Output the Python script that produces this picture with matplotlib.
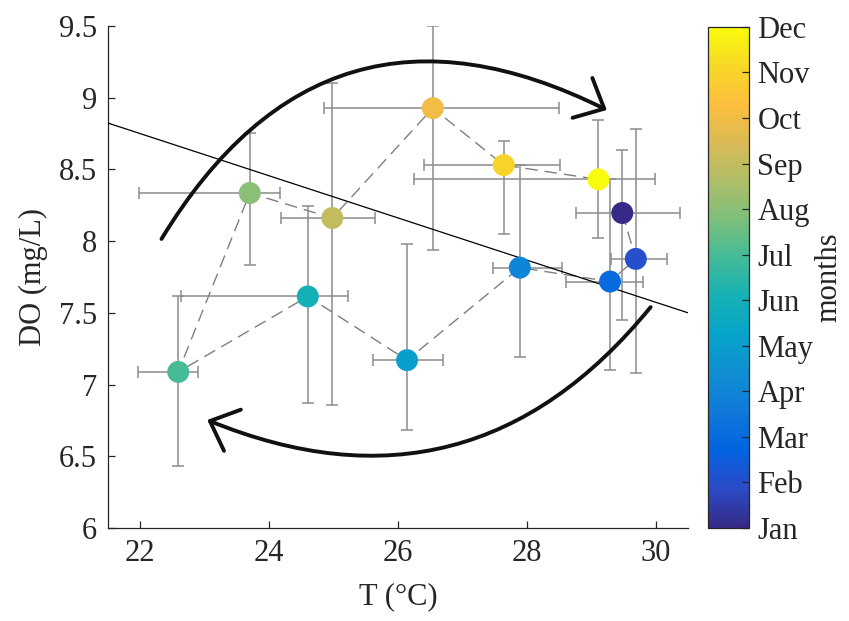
import numpy as np
import matplotlib
matplotlib.use('agg')
import matplotlib.pyplot as plt
from matplotlib import rcParams, ticker
from matplotlib.colors import LinearSegmentedColormap, Normalize
from matplotlib.patches import FancyArrowPatch
import matplotlib.cm as cm

rcParams['font.family'] = ['Liberation Serif', 'DejaVu Serif']
rcParams['font.size'] = 22

# monthly means and ranges
months = ['Jan', 'Feb', 'Mar', 'Apr', 'May', 'Jun',
          'Jul', 'Aug', 'Sep', 'Oct', 'Nov', 'Dec']
month_num = np.arange(1, 13)
temp = np.array([29.48, 29.69, 29.29, 27.89, 26.14, 24.60,
                 22.59, 23.70, 24.98, 26.54, 27.64, 29.11])
do = np.array([8.196, 7.876, 7.718, 7.815, 7.170, 7.614,
               7.088, 8.335, 8.161, 8.927, 8.530, 8.430])
temp_lo = np.array([28.76, 29.30, 28.61, 27.48, 25.61, 22.64,
                    21.96, 21.98, 24.18, 24.85, 26.41, 26.25])
temp_hi = np.array([30.37, 30.17, 29.80, 28.55, 26.70, 25.22,
                    22.90, 24.17, 25.65, 28.50, 28.51, 29.98])
do_lo = np.array([7.447, 7.081, 7.100, 7.190, 6.686, 6.872,
                  6.435, 7.836, 6.860, 7.936, 8.050, 8.022])
do_hi = np.array([8.632, 8.780, 8.430, 8.530, 7.983, 8.243,
                  7.616, 8.753, 9.100, 9.500, 8.695, 8.846])

# linear fit line (end points on the axis limits)
fit_t = [21.5, 30.5]
fit_do = [8.823, 7.500]

# seasonal arrows: (start, end) in data units
arrow_upper = [(22.33, 8.015), (29.24, 8.914)]
arrow_lower = [(29.92, 7.540), (23.04, 6.753)]

# parula-like colormap
parula_pts = [
    (0.2081, 0.1663, 0.5292), (0.1707, 0.2919, 0.7792),
    (0.0117, 0.3875, 0.8820), (0.0629, 0.4737, 0.8554),
    (0.0641, 0.5570, 0.8240), (0.0231, 0.6418, 0.7913),
    (0.0843, 0.6928, 0.7062), (0.2586, 0.7317, 0.5954),
    (0.4871, 0.7491, 0.4840), (0.6834, 0.7435, 0.4044),
    (0.8507, 0.7299, 0.3360), (0.9938, 0.7455, 0.2403),
    (0.9697, 0.8481, 0.1475), (0.9763, 0.9831, 0.0538),
]
parula = LinearSegmentedColormap.from_list('parula', parula_pts, N=256)
norm = Normalize(vmin=1, vmax=12)

dark = '#262626'
grey = '#8c8c8c'

fig = plt.figure(figsize=(8.49, 6.21), dpi=100)
ax = fig.add_axes([0.1272, 0.1498, 0.6832, 0.8084])

ax.plot(temp, do, linestyle='--', dashes=(9, 5), color='#7f7f7f', lw=1.0, zorder=1)
ax.errorbar(temp, do,
            xerr=[temp - temp_lo, temp_hi - temp],
            yerr=[do - do_lo, do_hi - do],
            fmt='none', ecolor=grey, elinewidth=1.1, capsize=4.5,
            capthick=1.1, zorder=2)
ax.plot(fit_t, fit_do, color='black', lw=0.9, zorder=3)
ax.scatter(temp, do, c=month_num, cmap=parula, norm=norm, s=250,
           edgecolors='none', zorder=4)

for (p0, p1), rad in [(arrow_upper, -0.46), (arrow_lower, -0.37)]:
    arr = FancyArrowPatch(p0, p1, connectionstyle=f'arc3,rad={rad}',
                          arrowstyle='->,head_length=1.75,head_width=1.6',
                          mutation_scale=10, lw=2.8, color='#111111',
                          shrinkA=0, shrinkB=0, zorder=5)
    ax.add_patch(arr)

ax.set_xlim(21.5, 30.5)
ax.set_ylim(6, 9.5)
ax.set_xticks([22, 24, 26, 28, 30])
ax.set_yticks(np.arange(6, 9.51, 0.5))
ax.yaxis.set_major_formatter(ticker.FormatStrFormatter('%g'))
ax.spines['top'].set_visible(False)
ax.spines['right'].set_visible(False)
for s in ['left', 'bottom']:
    ax.spines[s].set_color(dark)
    ax.spines[s].set_linewidth(0.9)
ax.tick_params(direction='in', length=5, width=0.9, colors=dark, pad=8,
               labelsize=22)
ax.set_xlabel('T (°C)', fontsize=22, color=dark, labelpad=10)
ax.set_ylabel('DO (mg/L)', fontsize=22, color=dark, labelpad=8)

cax = fig.add_axes([0.8339, 0.1498, 0.0483, 0.8068])
sm = cm.ScalarMappable(norm=norm, cmap=parula)
cbar = fig.colorbar(sm, cax=cax, ticks=month_num)
cbar.ax.set_yticklabels(months)
cbar.ax.tick_params(direction='in', length=5, width=0.9, colors=dark,
                    labelsize=22, pad=6)
cbar.outline.set_edgecolor(dark)
cbar.outline.set_linewidth(0.9)
cbar.set_label('months', fontsize=22, color=dark, labelpad=1)

fig.savefig('out.png', dpi=100)
